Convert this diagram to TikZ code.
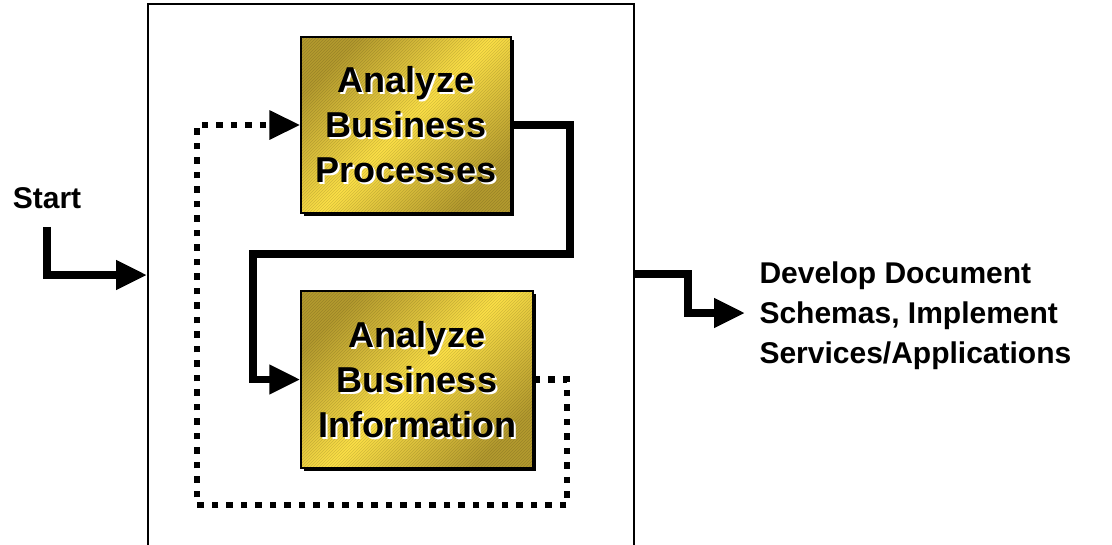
\documentclass[tikz,border=0pt]{standalone}
\usepackage{fontspec}
\setmainfont{Liberation Sans}
\usetikzlibrary{arrows.meta, shadows, patterns}

\definecolor{goldDark}{RGB}{180,154,46}
\definecolor{goldLight}{RGB}{252,224,70}

\tikzset{
  stage/.style={draw=black, line width=1.5pt, inner sep=0pt,
    top color=goldDark, bottom color=goldDark, middle color=goldLight, shading angle=45,
    drop shadow={shadow xshift=3pt, shadow yshift=-3pt, fill=black, opacity=1}},
  hatch/.style={pattern=north east lines, pattern color=black},
  stagetext/.style={align=center, font=\bfseries\fontsize{36}{45}\selectfont},
  flow/.style={line width=7.5pt, -{Triangle[length=31pt,width=28pt]}},
  loopback/.style={line width=6.5pt, dash pattern=on 6.5pt off 8pt, -{Triangle[length=31pt,width=28pt]}},
  plain/.style={font=\bfseries\fontsize{30}{40}\selectfont, align=left}
}

\begin{document}
\begin{tikzpicture}[x=1pt, y=-1pt]
  \useasboundingbox (0,0) rectangle (1112,544);

  % frame around the analysis loop, open at the bottom
  \draw[line width=2pt] (148,548) |- (634,4) -- (634,548);

  \node[stage, minimum width=210pt, minimum height=176pt] (proc) at (406,125) {};
  \node[stage, minimum width=232pt, minimum height=177pt] (info) at (417,379.5) {};
  % fine hatching over the boxes
  \begin{scope}[transparency group, opacity=.14]
    \foreach \b in {proc,info}
      \fill[hatch] ([shift={(.75pt,-.75pt)}]\b.north west) rectangle ([shift={(-.75pt,.75pt)}]\b.south east);
  \end{scope}

  \node[stagetext, white] at ([xshift=2pt, yshift=-2pt]proc.center) {Analyze\\Business\\Processes};
  \node[stagetext] at (proc.center) {Analyze\\Business\\Processes};
  \node[stagetext, white] at ([xshift=2pt, yshift=-2pt]info.center) {Analyze\\Business\\Information};
  \node[stagetext] at (info.center) {Analyze\\Business\\Information};

  \node[plain, anchor=base] (start) at (47,208) {Start};
  \node[plain, anchor=west] (next) at (756,316) {Develop Document\\Schemas, Implement\\Services/Applications};

  \coordinate (in) at (147,275);
  \coordinate (out) at (635,274);
  \coordinate (r1) at (570,254);
  \coordinate (l1) at (253,254);
  \coordinate (d1) at (567,505);
  \coordinate (d2) at (197,505);
  \coordinate (o1) at (688,313);
  \coordinate (o2) at (745,313);

  \draw[flow, shorten <=15pt] (start.south) |- (in);
  \draw[flow] (proc.east) -| (r1) -- (l1) |- (info.west);
  \draw[loopback] (info.east) -| (d1) -- (d2) |- (proc.west);
  \draw[flow] (out) -| (o1) -- (o2);
\end{tikzpicture}
\end{document}
